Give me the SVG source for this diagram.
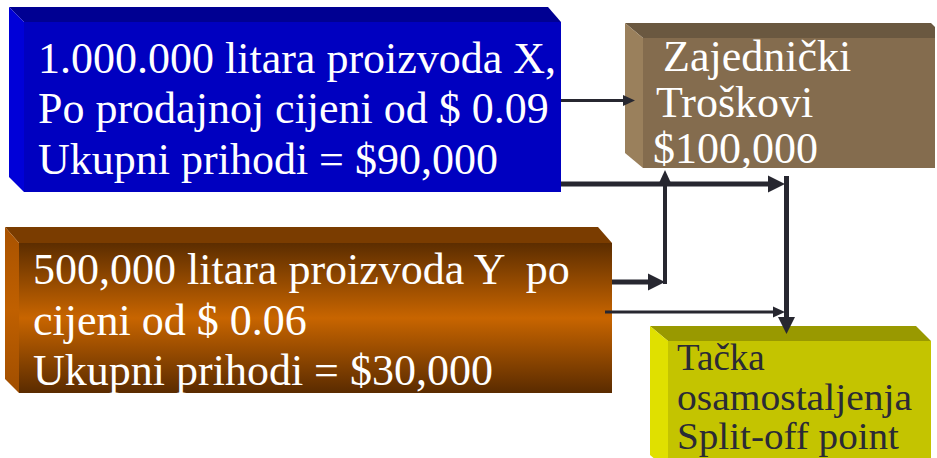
<svg xmlns="http://www.w3.org/2000/svg" width="937" height="458" viewBox="0 0 937 458">
<style>
  .t { font-family: "Liberation Serif", "Times New Roman", serif; font-size: 44px; fill: #ffffff; }
  .ty { font-family: "Liberation Serif", "Times New Roman", serif; font-size: 37px; fill: #2a2a36; }
  .c { fill: none; stroke: #272730; }
  .thin { stroke-width: 3; }
  .thick { stroke-width: 5; }
</style>
<defs>
  <marker id="ahS" markerUnits="userSpaceOnUse" markerWidth="13" markerHeight="12" refX="1" refY="6" orient="auto">
    <path d="M0,0.5 L12,6 L0,11.5 z" fill="#272730"/>
  </marker>
  <marker id="ahL" markerUnits="userSpaceOnUse" markerWidth="18" markerHeight="18" refX="2" refY="9" orient="auto">
    <path d="M0,0.5 L17,9 L0,17.5 z" fill="#272730"/>
  </marker>
  <linearGradient id="orangeG" x1="0" y1="0" x2="0" y2="1">
    <stop offset="0" stop-color="#5c2d00"/>
    <stop offset="0.5" stop-color="#c86500"/>
    <stop offset="1" stop-color="#5a2b00"/>
  </linearGradient>
  <linearGradient id="orangeS" x1="0" y1="0" x2="0" y2="1">
    <stop offset="0" stop-color="#a85200"/>
    <stop offset="0.5" stop-color="#c06000"/>
    <stop offset="1" stop-color="#a04e00"/>
  </linearGradient>
</defs>

<rect width="937" height="458" fill="#ffffff"/>

<g id="node-x">
  <polygon points="9,7 548,7 561,22 24,22" fill="#000092"/>
  <polygon points="9,7 24,22 24,192 9,177" fill="#0000d8"/>
  <rect x="24" y="22" width="537" height="170" fill="#0000c0"/>
  <text class="t" x="38" y="73">1.000.000 litara proizvoda X,</text>
  <text class="t" x="38" y="123">Po prodajnoj cijeni od $ 0.09</text>
  <text class="t" x="38" y="174">Ukupni prihodi = $90,000</text>
</g>

<g id="node-costs">
  <polygon points="625,23 931,23 935,27 935,38 643,38" fill="#6a5840"/>
  <polygon points="625,23 643,38 643,168 625,153" fill="#9a805c"/>
  <rect x="643" y="38" width="292" height="130" fill="#846c4e"/>
  <text class="t" x="663" y="71">Zajednički</text>
  <text class="t" x="656" y="117">Troškovi</text>
  <text class="t" x="653" y="163">$100,000</text>
</g>

<g id="node-y">
  <polygon points="5,227 598,227 612,243 19,243" fill="#7a3c00"/>
  <polygon points="5,227 19,243 19,393 5,379" fill="url(#orangeS)"/>
  <rect x="19" y="243" width="593" height="150" fill="url(#orangeG)"/>
  <text class="t" x="33" y="284" xml:space="preserve">500,000 litara proizvoda Y  po</text>
  <text class="t" x="33" y="335">cijeni od $ 0.06</text>
  <text class="t" x="33" y="385">Ukupni prihodi = $30,000</text>
</g>

<g id="node-splitoff">
  <polygon points="650,326 916,326 931,341 668,341" fill="#999900"/>
  <polygon points="650,326 668,341 668,470 650,455" fill="#e0e000"/>
  <rect x="668" y="341" width="263" height="130" fill="#c4c400"/>
  <text class="ty" x="677" y="370">Tačka</text>
  <text class="ty" x="677" y="410" textLength="235" lengthAdjust="spacingAndGlyphs">osamostaljenja</text>
  <text class="ty" x="677" y="449" textLength="222" lengthAdjust="spacingAndGlyphs">Split-off point</text>
</g>

<g id="connectors">
  <path class="c thin" d="M561,100.5 H624" marker-end="url(#ahS)"/>
  <path class="c thick" d="M561,184 H770" marker-end="url(#ahL)"/>
  <path class="c thick" d="M786.5,176 V319" marker-end="url(#ahL)"/>
  <path class="c thick" d="M612,282 H650" marker-end="url(#ahL)"/>
  <path class="c" stroke-width="4" d="M665,284 V181" marker-end="url(#ahS)"/>
  <path class="c thin" d="M605,312 H774" marker-end="url(#ahS)"/>
</g>
</svg>
